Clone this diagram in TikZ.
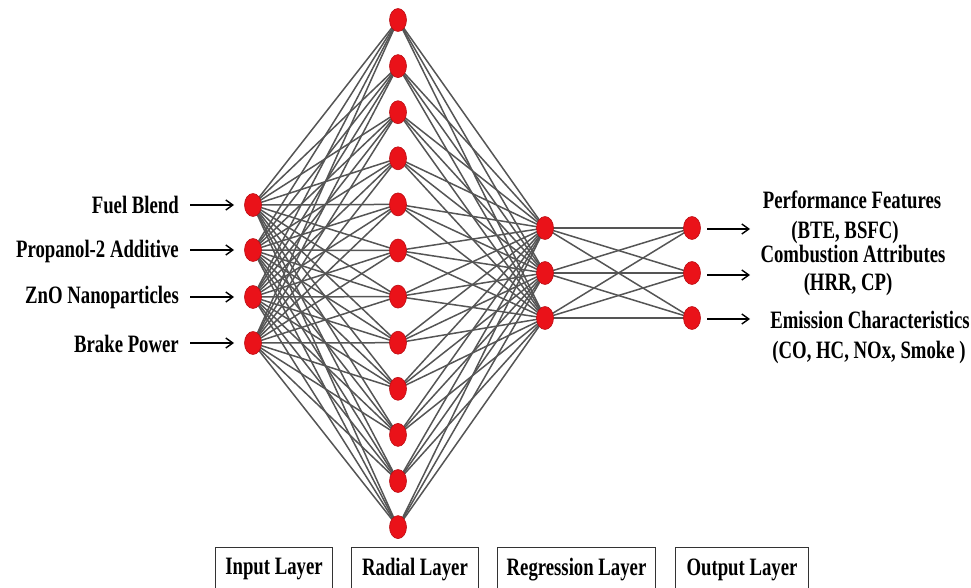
\documentclass[tikz,border=0pt]{standalone}
\usepackage{fontspec}
\setmainfont{Liberation Serif}
\newfontfamily\labfont{Liberation Serif}[FakeStretch=0.75]
\usetikzlibrary{shapes.geometric,arrows.meta,backgrounds}
\definecolor{nred}{HTML}{EA1219}
\definecolor{edgegray}{HTML}{555555}
\begin{document}
\begin{tikzpicture}[x=1pt,y=-1pt,
  neuron/.style={ellipse,fill=nred,draw=nred!80!black,line width=0.6pt,minimum width=17pt,minimum height=23pt,inner sep=0pt},
  conn/.style={draw=edgegray,line width=1.5pt},
  lbl/.style={font=\labfont\bfseries\fontsize{25}{28}\selectfont,inner sep=0pt},
  sidearrow/.style={-{Straight Barb[length=7pt,width=10pt,line width=1.4pt]},line width=1.4pt,black},
  layerbox/.style={draw=black!80,line width=1pt,anchor=north west,minimum height=44pt,inner sep=0pt,font=\labfont\bfseries\fontsize{25}{28}\selectfont}
]
\useasboundingbox (0,0) rectangle (971,588);

% input layer
\foreach \i/\y in {1/205,2/250,3/297,4/343}
  \node[neuron] (I\i) at (253,\y) {};
% radial layer
\foreach \j in {1,...,12}
  \node[neuron] (R\j) at (398,{20+46.1*(\j-1)}) {};
% regression layer
\foreach \k/\y in {1/228,2/273,3/318}
  \node[neuron] (G\k) at (545,\y) {};
% output layer
\foreach \k/\y in {1/228,2/273,3/318}
  \node[neuron] (O\k) at (692,\y) {};

\begin{pgfonlayer}{background}
  \foreach \i in {1,...,4}
    \foreach \j in {1,...,12}
      \draw[conn] (I\i.center) -- (R\j.center);
  \foreach \j in {1,...,12}
    \foreach \k in {1,...,3}
      \draw[conn] (R\j.center) -- (G\k.center);
  \foreach \k in {1,...,3}
    \foreach \m in {1,...,3}
      \draw[conn] (G\k.center) -- (O\m.center);
\end{pgfonlayer}

% input labels and arrows
\node[lbl,anchor=base east] (L1) at (179,213) {Fuel Blend};
\node[lbl,anchor=base east] (L2) at (179,257) {Propanol-2 Additive};
\node[lbl,anchor=base east] (L3) at (179,303) {ZnO Nanoparticles};
\node[lbl,anchor=base east] (L4) at (179,352) {Brake Power};
\foreach \i/\y in {1/205,2/250,3/297,4/343}{
  \coordinate (a\i) at (190,\y);
  \coordinate (b\i) at (234,\y);
  \draw[sidearrow] (a\i) -- (b\i);
}

% output arrows
\foreach \k/\y in {1/229,2/275,3/319}{
  \coordinate (c\k) at (707,\y);
  \coordinate (d\k) at (750,\y);
  \draw[sidearrow] (c\k) -- (d\k);
}

% output labels
\node[lbl,anchor=base] (P1) at (852,208) {Performance Features};
\node[lbl,anchor=base] (P2) at (845,238) {(BTE, BSFC)};
\node[lbl,anchor=base] (P3) at (853,262) {Combustion Attributes};
\node[lbl,anchor=base] (P4) at (848,290) {(HRR, CP)};
\node[lbl,anchor=base] (P5) at (870,328) {Emission Characteristics};
\node[lbl,anchor=base] (P6) at (869,358) {(CO, HC, NOx, Smoke )};

% layer boxes
\node[layerbox,minimum width=117pt] (BI) at (215,547) {Input Layer};
\node[layerbox,minimum width=127pt] (BR) at (351,547) {Radial Layer};
\node[layerbox,minimum width=158pt] (BG) at (497,547) {Regression Layer};
\node[layerbox,minimum width=133pt] (BO) at (675,547) {Output Layer};
\end{tikzpicture}
\end{document}
